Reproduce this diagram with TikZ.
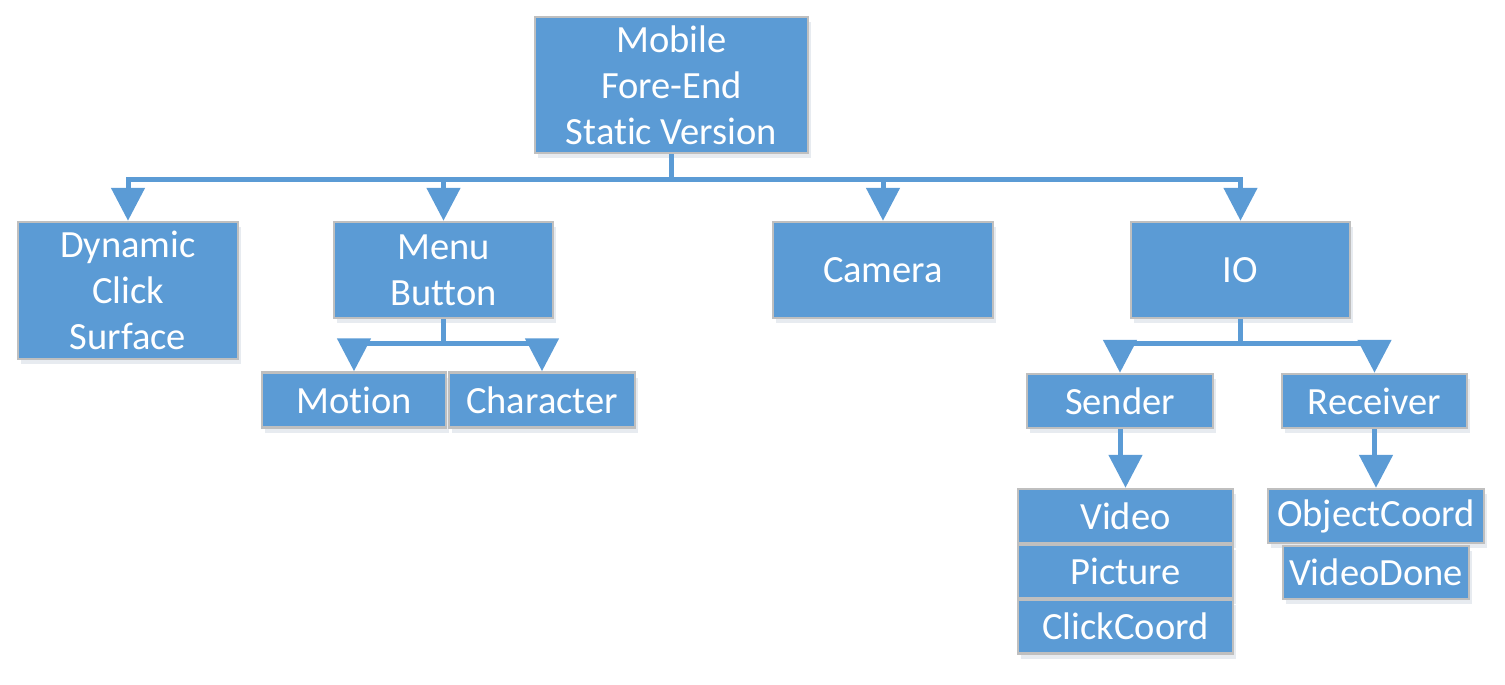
\documentclass[tikz,border=0pt]{standalone}
\usepackage{fontspec}
\setmainfont{Carlito}[Ligatures={NoCommon,NoContextual}]
\usetikzlibrary{arrows.meta,shadows}
\definecolor{boxblue}{HTML}{5B9BD5}
\definecolor{boxedge}{HTML}{BFBFBF}
\begin{document}
\begin{tikzpicture}[x=1pt,y=-1pt,
  box/.style={draw=boxedge, line width=2.5pt, fill=boxblue, text=white, align=center,
    inner sep=0pt, font=\fontsize{38.5}{46}\selectfont,
    drop shadow={shadow xshift=3pt, shadow yshift=-5pt, opacity=0.12, fill=boxblue!60!black}},
  conn/.style={draw=boxblue, line width=5pt, -{Triangle[width=33pt,length=33pt]}},
]
\useasboundingbox (0,0) rectangle (1505,685);

\node[box, minimum width=273pt, minimum height=136pt] (top) at (671.5,85) {Mobile\\Fore-End\\Static Version};
\node[box, minimum width=220pt, minimum height=137pt] (dyn) at (128,290.5) {Dynamic\\Click\\Surface};
\node[box, minimum width=219pt, minimum height=96pt] (menu) at (443.5,270) {Menu\\Button};
\node[box, minimum width=220pt, minimum height=96pt] (camera) at (883,270) {Camera};
\node[box, minimum width=219pt, minimum height=96pt] (io) at (1240.5,270) {IO};

\node[box, minimum width=184pt, minimum height=55pt] (motion) at (354,400) {Motion};
\node[box, minimum width=186pt, minimum height=55pt] (character) at (542,400) {Character};

\node[box, minimum width=186pt, minimum height=54pt] (sender) at (1120,401) {Sender};
\node[box, minimum width=185pt, minimum height=54pt] (receiver) at (1374.5,401) {Receiver};

\node[box, minimum width=215pt, minimum height=54pt] (video) at (1125.5,516) {Video};
\node[box, minimum width=215pt, minimum height=54pt] (picture) at (1125.5,571.5) {Picture};
\node[box, minimum width=215pt, minimum height=54pt] (clickcoord) at (1125.5,626.5) {ClickCoord};

\node[box, minimum width=216pt, minimum height=54pt] (objectcoord) at (1376,516) {ObjectCoord};
\node[box, minimum width=186pt, minimum height=53pt] (videodone) at (1376,572.5) {VideoDone};

\coordinate (j0) at (671.5,179);
\draw[conn] (top.south) -- (j0) -| (dyn.north);
\draw[conn] (top.south) -- (j0) -| (menu.north);
\draw[conn] (top.south) -- (j0) -| (camera.north);
\draw[conn] (top.south) -- (j0) -| (io.north);

\coordinate (j1) at (443.5,343);
\draw[conn] (menu.south) -- (j1) -| (motion.north);
\draw[conn] (menu.south) -- (j1) -| (character.north);

\coordinate (j2) at (1240.5,343);
\draw[conn] (io.south) -- (j2) -| (sender.north);
\draw[conn] (io.south) -- (j2) -| (receiver.north);

\draw[conn] (sender.south) -- ++(0,28) -| (video.north);
\draw[conn] (receiver.south) -- ++(0,28) -| (objectcoord.north);
\end{tikzpicture}
\end{document}
